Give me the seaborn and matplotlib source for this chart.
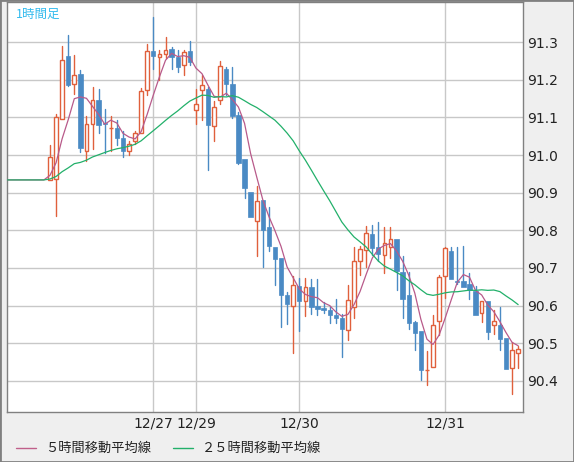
import numpy as np
import pandas as pd
import matplotlib
matplotlib.use("Agg")
import matplotlib.pyplot as plt
import seaborn as sns

sns.set_theme(style="white")
plt.rcParams['font.family'] = ['Noto Sans CJK JP', 'DejaVu Sans']

flat = 90.934
n_flat = 30
opens = [flat]*n_flat + [
 90.933, 90.936, 91.096, 91.263, 91.188, 91.215, 91.010, 91.083, 91.146, 91.086,
 91.072, 91.073, 91.046, 91.010, 91.038, 91.058, 91.174, 91.277, 91.260, 91.270,
 91.281, 91.262, 91.240, 91.277, 91.120, 91.172, 91.177, 91.077, 91.146, 91.230,
 91.188, 91.107, 90.989, 90.902, 90.826, 90.880,
 90.808, 90.755, 90.727, 90.627, 90.599, 90.651, 90.613, 90.648, 90.598, 90.593,
 90.587, 90.575, 90.568, 90.535, 90.595, 90.718, 90.749, 90.789, 90.755, 90.735,
 90.756, 90.776, 90.688, 90.627, 90.555, 90.533, 90.428, 90.437, 90.559, 90.679,
 90.746, 90.666, 90.664, 90.658, 90.639, 90.580, 90.613, 90.548, 90.547, 90.515,
 90.433, 90.475]
closes = [flat]*n_flat + [
 90.995, 91.101, 91.254, 91.186, 91.214, 91.018, 91.083, 91.146, 91.080, 91.083,
 91.072, 91.045, 91.010, 91.030, 91.058, 91.170, 91.277, 91.264, 91.270, 91.279,
 91.262, 91.235, 91.275, 91.248, 91.137, 91.187, 91.080, 91.129, 91.238, 91.188,
 91.103, 90.980, 90.913, 90.836, 90.878, 90.800,
 90.758, 90.724, 90.627, 90.604, 90.655, 90.613, 90.649, 90.597, 90.590, 90.589,
 90.575, 90.566, 90.537, 90.615, 90.718, 90.751, 90.792, 90.753, 90.738, 90.765,
 90.776, 90.693, 90.618, 90.553, 90.526, 90.428, 90.428, 90.548, 90.677, 90.753,
 90.671, 90.662, 90.649, 90.642, 90.575, 90.613, 90.529, 90.559, 90.510, 90.431,
 90.482, 90.484]
highs = [flat]*n_flat + [
 91.028, 91.108, 91.290, 91.320, 91.266, 91.226, 91.105, 91.180, 91.177, 91.122,
 91.105, 91.092, 91.065, 91.038, 91.065, 91.179, 91.295, 91.367, 91.280, 91.313,
 91.288, 91.280, 91.280, 91.303, 91.177, 91.212, 91.180, 91.145, 91.250, 91.235,
 91.235, 91.114, 90.989, 90.902, 90.918, 90.880,
 90.862, 90.755, 90.727, 90.637, 90.678, 90.673, 90.673, 90.670, 90.670, 90.610,
 90.600, 90.617, 90.577, 90.654, 90.755, 90.759, 90.811, 90.814, 90.823, 90.809,
 90.809, 90.776, 90.731, 90.689, 90.560, 90.533, 90.480, 90.575, 90.682, 90.755,
 90.755, 90.755, 90.758, 90.686, 90.651, 90.613, 90.613, 90.589, 90.597, 90.515,
 90.504, 90.493]
lows = [flat]*n_flat + [
 90.933, 90.839, 91.096, 91.183, 91.162, 91.007, 90.985, 91.016, 91.059, 91.005,
 91.012, 91.028, 90.996, 91.000, 91.030, 91.058, 91.160, 91.229, 91.200, 91.257,
 91.230, 91.220, 91.214, 91.240, 91.083, 91.094, 90.960, 91.037, 91.137, 91.160,
 91.098, 90.976, 90.887, 90.836, 90.732, 90.702,
 90.744, 90.655, 90.544, 90.550, 90.475, 90.532, 90.573, 90.577, 90.576, 90.580,
 90.553, 90.553, 90.464, 90.508, 90.566, 90.680, 90.702, 90.735, 90.718, 90.686,
 90.727, 90.642, 90.566, 90.538, 90.483, 90.402, 90.390, 90.437, 90.522, 90.620,
 90.671, 90.657, 90.649, 90.617, 90.575, 90.555, 90.511, 90.524, 90.483, 90.431,
 90.366, 90.433]
tick_pos = [25, 32, 49, 73]
tick_labels = ["12/27", "12/29", "12/30", "12/31"]
ytick_vals = [90.4, 90.5, 90.6, 90.7, 90.8, 90.9, 91.0, 91.1, 91.2, 91.3]

df = pd.DataFrame({"open": opens, "close": closes, "high": highs, "low": lows})
df["idx"] = np.arange(len(df)) - (n_flat - 8)
df["ma5"] = df["close"].rolling(5, min_periods=1).mean()
df["ma25"] = df["close"].rolling(25, min_periods=1).mean()

UP = "#e0603c"
DN = "#4a8ac4"

fig = plt.figure(figsize=(5.74, 4.62), dpi=100, facecolor="#efefef")
ax = fig.add_axes([7/574, 1 - 412/462, 516/574, 410/462])
ax.set_facecolor("white")

for k, r in df.iterrows():
    if k < n_flat:
        continue
    i = r["idx"]
    up = r["close"] >= r["open"]
    c = UP if up else DN
    lo, hi = sorted([r["open"], r["close"]])
    ax.plot([i, i], [r["low"], lo], color=c, lw=1, zorder=3)
    ax.plot([i, i], [hi, r["high"]], color=c, lw=1, zorder=3)
    h = max(hi - lo, 0.0008)
    if up:
        ax.add_patch(plt.Rectangle((i - 0.3, lo), 0.6, h, facecolor="white",
                                   edgecolor=c, lw=1, zorder=4))
    else:
        ax.add_patch(plt.Rectangle((i - 0.35, lo), 0.7, h, facecolor=c,
                                   edgecolor=c, lw=0.5, zorder=4))

sns.lineplot(data=df, x="idx", y="ma5", ax=ax, color="#b85a8a", lw=0.9, zorder=5)
sns.lineplot(data=df, x="idx", y="ma25", ax=ax, color="#22b06a", lw=0.9, zorder=5)

ax.set_xlim(0.93, 85.8)
ax.set_ylim(90.317, 91.407)
ax.yaxis.tick_right()
ax.set_yticks(ytick_vals)
ax.set_yticklabels([f"{v:.1f}" for v in ytick_vals], fontsize=10, color="#222222",
                   family="DejaVu Sans")
ax.set_xticks(tick_pos)
ax.set_xticklabels(tick_labels, fontsize=10, color="#222222", family="DejaVu Sans")
ax.tick_params(length=0, pad=3)
ax.grid(True, color="#c8c8c8", lw=1)
ax.set_axisbelow(True)
ax.set_xlabel("")
ax.set_ylabel("")
for s in ax.spines.values():
    s.set_color("#808080")
    s.set_linewidth(1)
ax.text(0.017, 0.985, "1時間足", transform=ax.transAxes, color="#33bbee",
        fontsize=9, va="top", ha="left")

yl = 1 - 448/462
fig.add_artist(plt.Line2D([16/574, 36/574], [yl, yl], transform=fig.transFigure,
                          color="#c0608a", lw=1))
fig.text(45/574, yl, "５時間移動平均線", fontsize=9.5, va="center", color="#222222")
fig.add_artist(plt.Line2D([173/574, 193/574], [yl, yl], transform=fig.transFigure,
                          color="#22b06a", lw=1))
fig.text(202/574, yl, "２５時間移動平均線", fontsize=9.5, va="center", color="#222222")
fig.add_artist(plt.Rectangle((0, 0), 1, 1, transform=fig.transFigure, fill=False,
                             edgecolor="#808080", lw=2))

fig.savefig("out.png", dpi=100, facecolor=fig.get_facecolor())
